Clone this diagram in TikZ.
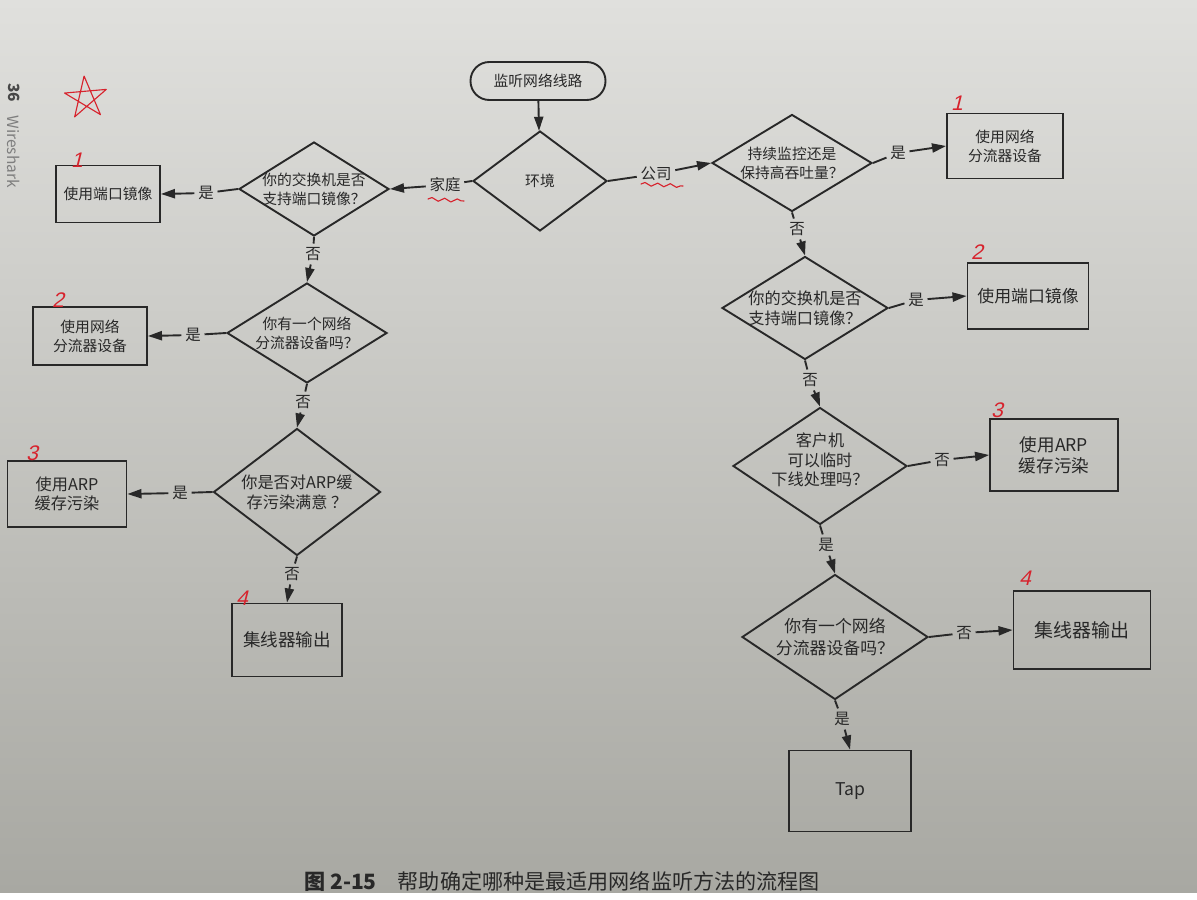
\documentclass[tikz,border=0pt]{standalone}
\usepackage{fontspec}
\setmainfont{Noto Sans CJK SC}
\newfontfamily\hand[FakeSlant=0.25]{Liberation Sans}
\usetikzlibrary{shapes.geometric,arrows.meta,decorations.pathmorphing}
\definecolor{ink}{RGB}{40,40,40}
\definecolor{redpen}{RGB}{215,35,45}
\definecolor{paperT}{RGB}{224,224,221}
\definecolor{paperB}{RGB}{168,168,162}
\tikzset{
  wh/.style 2 args={minimum width=#1*0.025cm, minimum height=#2*0.025cm},
  flow/.style={draw=ink, line width=1.35pt, text=ink},
  boxn/.style={flow, rectangle, inner sep=2pt, align=center},
  term/.style={flow, rectangle, rounded corners=0.47cm, inner sep=2pt},
  dia/.style={flow, diamond, inner sep=0pt},
  dt/.style={text=ink, align=center, inner sep=0pt},
  fsL/.style={font=\fontsize{10.5}{13.5}\selectfont},
  fsR/.style={font=\fontsize{11.5}{14}\selectfont},
  ln/.style={draw=ink, line width=1.35pt},
  arr/.style={draw=ink, line width=1.35pt, -{Triangle[length=10pt,width=6.5pt]}},
  lbl/.style={text=ink, inner sep=2.5pt, font=\fontsize{11}{13}\selectfont},
  note/.style={text=redpen, font=\hand\fontsize{15}{15}\selectfont, inner sep=0pt},
  pen/.style={draw=redpen, line width=0.8pt, line cap=round, line join=round}
}
\begin{document}
\begin{tikzpicture}[x=0.025cm,y=-0.025cm]
\useasboundingbox (0,0) rectangle (1197,900);
\fill[top color=paperT, bottom color=paperB] (0,0) rectangle (1197,893);
\fill[white] (0,893) rectangle (1197,900);

% page edge text
\node[rotate=-90, text=ink!85, font=\bfseries\fontsize{11}{11}\selectfont] (pg) at (14,93) {36};
\node[rotate=-90, anchor=west, text=ink!60, font=\fontsize{11}{11}\selectfont, inner sep=1pt] (bk) at (14,114) {Wireshark};

% start and environment
\node[term, wh={135}{38}, fsL] (start) at (538,81) {监听网络线路};
\node[dia, wh={134}{100}, label={[dt,fsL]center:环境}] (env) at (540,181) {};
\draw[arr] (start) -- (env);

% ---------- left branch ----------
\node[dia, wh={150}{94}, label={[dt,fsL]center:{你的交换机是否\\支持端口镜像？}}] (d1) at (314,189) {};
\node[boxn, wh={104}{57}, fsL] (b1) at (108,194) {使用端口镜像};
\node[dia, wh={160}{100}, label={[dt,fsL]center:{你有一个网络\\分流器设备吗？}}] (d2) at (307,333) {};
\node[boxn, wh={114}{58}, fsL] (b2) at (90,336) {使用网络\\分流器设备};
\node[dia, wh={167}{127}, label={[dt,fsR]center:{你是否对ARP缓\\存污染满意 ？}}] (d3) at (297,492) {};
\node[boxn, wh={119}{66}, fsR] (b3) at (67,494) {使用ARP\\缓存污染};
\node[boxn, wh={110}{73}, font=\fontsize{12.5}{15}\selectfont] (b4) at (287,640) {集线器输出};

\node[lbl] (jt) at (445,185) {家庭};
\draw[ln] (env.west) -- (jt);
\draw[arr] (jt) -- (d1.east);

\node[lbl] (y1) at (206,193) {是};
\draw[ln] (d1.west) -- (y1); \draw[arr] (y1) -- (b1.east);
\node[lbl] (n1) at (313,254) {否};
\draw[ln] (d1.south) -- (n1); \draw[arr] (n1) -- (d2.north);

\node[lbl] (y2) at (193,335) {是};
\draw[ln] (d2.west) -- (y2); \draw[arr] (y2) -- (b2.east);
\node[lbl] (n2) at (303,402) {否};
\draw[ln] (d2.south) -- (n2); \draw[arr] (n2) -- (d3.north);

\node[lbl] (y3) at (180,493) {是};
\draw[ln] (d3.west) -- (y3); \draw[arr] (y3) -- (b3.east);
\node[lbl] (n3) at (292,574) {否};
\draw[ln] (d3.south) -- (n3); \draw[arr] (n3) -- (b4.north);

% ---------- right branch ----------
\node[dia, wh={160}{97}, label={[dt,fsL]center:{持续监控还是\\保持高吞吐量？}}] (r1) at (792,163) {};
\node[boxn, wh={116}{65}, fsL] (rb1) at (1005,146) {使用网络\\分流器设备};
\node[dia, wh={166}{103}, label={[dt,fsR]center:{你的交换机是否\\支持端口镜像？}}] (r2) at (805,308) {};
\node[boxn, wh={121}{66}, font=\fontsize{12}{14}\selectfont] (rb2) at (1028,296) {使用端口镜像};
\node[dia, wh={174}{117}, label={[dt,fsR,yshift=0.15cm]center:{客户机\\可以临时\\下线处理吗？}}] (r3) at (820,466) {};
\node[boxn, wh={128}{72}, font=\fontsize{12.5}{15}\selectfont] (rb3) at (1054,455) {使用ARP\\缓存污染};
\node[dia, wh={186}{125}, label={[dt,font=\fontsize{12}{15}\selectfont]center:{你有一个网络\\分流器设备吗？}}] (r4) at (835,637) {};
\node[boxn, wh={137}{78}, font=\fontsize{13.5}{16}\selectfont] (rb4) at (1082,630) {集线器输出};
\node[boxn, wh={122}{81}, font=\fontsize{12.5}{15}\selectfont] (tap) at (850,791) {Tap};

\node[lbl] (gs) at (656,174) {公司};
\draw[ln] (env.east) -- (gs);
\draw[arr] (gs) -- (r1.west);

\node[lbl] (ry1) at (898,153) {是};
\draw[ln] (r1.east) -- (ry1); \draw[arr] (ry1) -- (rb1.west);
\node[lbl] (rn1) at (797,229) {否};
\draw[ln] (r1.south) -- (rn1); \draw[arr] (rn1) -- (r2.north);

\node[lbl] (ry2) at (916,300) {是};
\draw[ln] (r2.east) -- (ry2); \draw[arr] (ry2) -- (rb2.west);
\node[lbl] (rn2) at (810,380) {否};
\draw[ln] (r2.south) -- (rn2); \draw[arr] (rn2) -- (r3.north);

\node[lbl] (rn3) at (942,460) {否};
\draw[ln] (r3.east) -- (rn3); \draw[arr] (rn3) -- (rb3.west);
\node[lbl] (ry3) at (826,545) {是};
\draw[ln] (r3.south) -- (ry3); \draw[arr] (ry3) -- (r4.north);

\node[lbl] (rn4) at (964,633) {否};
\draw[ln] (r4.east) -- (rn4); \draw[arr] (rn4) -- (rb4.west);
\node[lbl] (ry4) at (842,719) {是};
\draw[ln] (r4.south) -- (ry4); \draw[arr] (ry4) -- (tap.north);

% caption
\node[text=ink, font=\fontsize{15}{18}\selectfont] (cap) at (562,882) {\textbf{图 2-15}\quad 帮助确定哪种是最适用网络监听方法的流程图};

% red pen annotations
\draw[pen] (86,98) +(-95:22) -- +(49:22) -- +(193:22) -- +(-23:22) -- +(121:22) -- cycle;
\draw[pen, decorate, decoration={snake, amplitude=1.2pt, segment length=9pt}] (428,199) -- (464,201);
\draw[pen, decorate, decoration={snake, amplitude=1.2pt, segment length=9pt}] (641,184) -- (683,186);
\node[note] (a1) at (77,160) {1};
\node[note] (a2) at (58,300) {2};
\node[note] (a3) at (32,453) {3};
\node[note] (a4) at (242,598) {4};
\node[note] (a5) at (957,103) {1};
\node[note] (a6) at (977,252) {2};
\node[note] (a7) at (997,410) {3};
\node[note] (a8) at (1025,578) {4};
\end{tikzpicture}
\end{document}
